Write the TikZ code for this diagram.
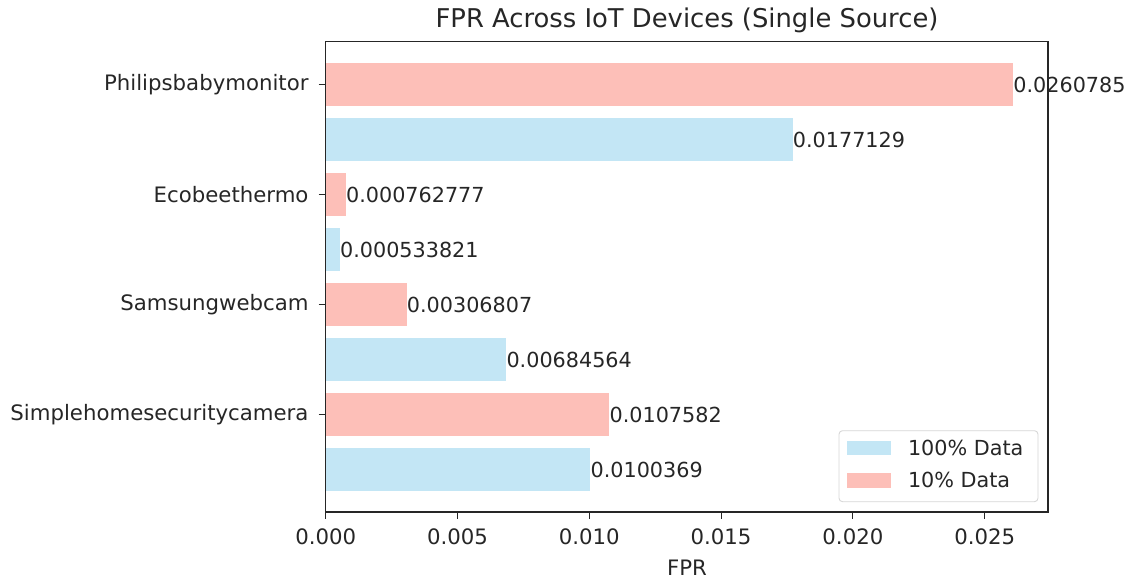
\documentclass[tikz,border=0pt]{standalone}
\usepackage{fontspec}
\setmainfont{DejaVu Sans}
\usepackage{xcolor}
\usetikzlibrary{positioning}
\definecolor{fullblue}{RGB}{195,230,245}
\definecolor{tenpink}{RGB}{253,191,184}
\definecolor{legedge}{RGB}{214,214,214}
\definecolor{inkgray}{RGB}{38,38,38}

\begin{document}
\begin{tikzpicture}[x=0.02cm,y=-0.02cm,font=\fontsize{12.1}{14}\selectfont,text=inkgray,
  vallabel/.style={anchor=west,inner xsep=0pt,inner ysep=0pt,font=\fontsize{11.8}{14}\selectfont},
  ticklabel/.style={inner sep=0pt}]
\useasboundingbox (0,0) rectangle (1137,580);
% bars (pixel coordinates, y downwards)
\fill[tenpink] (325.7,62.8) rectangle (1013.1,106.2);
\fill[fullblue] (325.7,117.8) rectangle (792.6,161.2);
\fill[tenpink] (325.7,172.8) rectangle (345.8,216.2);
\fill[fullblue] (325.7,227.8) rectangle (339.8,271.2);
\fill[tenpink] (325.7,282.8) rectangle (406.6,326.2);
\fill[fullblue] (325.7,337.8) rectangle (506.2,381.2);
\fill[tenpink] (325.7,392.8) rectangle (609.3,436.2);
\fill[fullblue] (325.7,447.8) rectangle (590.3,491.2);
% axes frame
\draw[black!85,line width=0.6pt] (325.7,41.7) rectangle (1048,512);
% value labels
\node[vallabel] (v1) at (1013.1,84.5) {0.0260785};
\node[vallabel] (v2) at (792.6,139.5) {0.0177129};
\node[vallabel] (v3) at (345.8,194.5) {0.000762777};
\node[vallabel] (v4) at (339.8,249.5) {0.000533821};
\node[vallabel] (v5) at (406.6,304.5) {0.00306807};
\node[vallabel] (v6) at (506.2,359.5) {0.00684564};
\node[vallabel] (v7) at (609.3,414.5) {0.0107582};
\node[vallabel] (v8) at (590.3,469.5) {0.0100369};
% y ticks
\draw[black!85,line width=0.6pt] (318.7,84.5) -- (325.7,84.5) node[ticklabel,left=9.5pt] (yl1) {Philipsbabymonitor};
\draw[black!85,line width=0.6pt] (318.7,194.5) -- (325.7,194.5) node[ticklabel,left=9.5pt] (yl2) {Ecobeethermo};
\draw[black!85,line width=0.6pt] (318.7,304.5) -- (325.7,304.5) node[ticklabel,left=9.5pt] (yl3) {Samsungwebcam};
\draw[black!85,line width=0.6pt] (318.7,414.5) -- (325.7,414.5) node[ticklabel,left=9.5pt] (yl4) {Simplehomesecuritycamera};
% x ticks
\draw[black!85,line width=0.6pt] (325.7,512) -- (325.7,519) node[ticklabel,below=5pt] (xl0) {0.000};
\draw[black!85,line width=0.6pt] (457.5,512) -- (457.5,519) node[ticklabel,below=5pt] (xl1) {0.005};
\draw[black!85,line width=0.6pt] (589.3,512) -- (589.3,519) node[ticklabel,below=5pt] (xl2) {0.010};
\draw[black!85,line width=0.6pt] (721.1,512) -- (721.1,519) node[ticklabel,below=5pt] (xl3) {0.015};
\draw[black!85,line width=0.6pt] (852.9,512) -- (852.9,519) node[ticklabel,below=5pt] (xl4) {0.020};
\draw[black!85,line width=0.6pt] (984.7,512) -- (984.7,519) node[ticklabel,below=5pt] (xl5) {0.025};
\node[ticklabel] (xlab) at (687,568) {FPR};
\node[font=\fontsize{14.7}{17}\selectfont] (title) at (687,20) {FPR Across IoT Devices (Single Source)};
% legend
\draw[legedge,fill=white,rounded corners=2pt,line width=0.5pt] (839,430.7) rectangle (1038,501.7);
\fill[fullblue] (846.7,440.7) rectangle (890.7,455);
\fill[tenpink] (846.7,472.7) rectangle (890.7,487.7);
\node[vallabel] (leg1) at (907.7,448) {100\% Data};
\node[vallabel] (leg2) at (907.7,480.2) {10\% Data};
\end{tikzpicture}
\end{document}
